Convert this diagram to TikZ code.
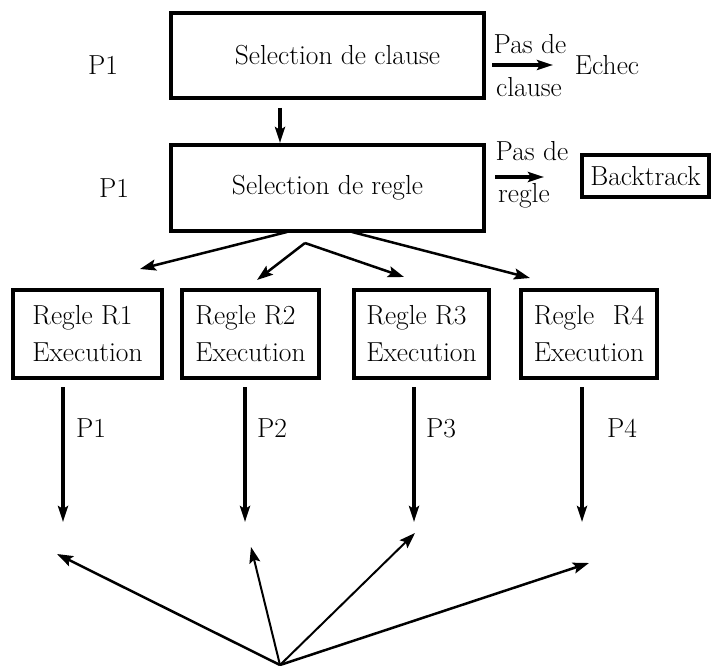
\documentclass[tikz,border=0pt]{standalone}
\usepackage{calc}
\usetikzlibrary{arrows.meta}
\begin{document}
\begin{tikzpicture}[x=1pt,y=-1pt,
  every node/.style={font=\fontsize{27.5}{37}\selectfont, inner sep=0pt},
  bigbox/.style={draw, line width=4pt, minimum width=313pt, minimum height=85pt},
  rulebox/.style={draw, line width=4pt, minimum height=88pt, align=left},
  arr/.style={line width=3.2pt, -{Stealth[length=16pt,width=10pt,inset=3pt]}},
  fanarr/.style={line width=2.5pt, -{Stealth[length=16pt,width=11pt,inset=3pt]}},
]
\useasboundingbox (0,0) rectangle (712,666);

% top: clause selection and rule selection
\node[bigbox] (clause) at (327.5,55.5) {\hspace*{20pt}Selection de clause};
\node (p1a) at (103,65) {P1};
\node[bigbox, minimum height=86pt] (regle) at (327.5,188) {Selection de regle};
\node (p1b) at (114,188) {P1};
\draw[arr, shorten <=8pt] ([xshift=-47.5pt]clause.south) -- ([xshift=-47.5pt]regle.north);

% failure exit of the clause selection
\coordinate (c1s) at (492,65);
\coordinate (c1e) at (553,65);
\draw[arr] (c1s) -- (c1e);
\node (pd1) at (530,44) {Pas de};
\node (cl1) at (529,87) {clause};
\node (echec) at (607,65) {Echec};

% failure exit of the rule selection
\coordinate (c2s) at (495,177);
\coordinate (c2e) at (544,177);
\draw[arr] (c2s) -- (c2e);
\node (pd2) at (532,151) {Pas de};
\node (rg2) at (524,196) {regle};
\node[draw, line width=4pt, minimum width=127pt, minimum height=42pt] (bt) at (645.5,176) {Backtrack};

% fan towards the four rules
\coordinate (f1s) at (287,232);
\coordinate (f1e) at (140,269);
\coordinate (fork) at (305,243);
\coordinate (f2e) at (257,280);
\coordinate (f3e) at (404,277);
\coordinate (f4s) at (352,232);
\coordinate (f4e) at (530,278);
\draw[fanarr] (f1s) -- (f1e);
\draw[fanarr] (fork) -- (f2e);
\draw[fanarr] (fork) -- (f3e);
\draw[fanarr] (f4s) -- (f4e);

% rule boxes
\node[rulebox, minimum width=149pt] (r1) at (87.5,334) {Regle R1\\Execution};
\node[rulebox, minimum width=137pt] (r2) at (250.5,334) {Regle R2\\Execution};
\node[rulebox, minimum width=135pt] (r3) at (421.5,334) {Regle R3\\Execution};
\node[rulebox, minimum width=136pt] (r4) at (589,334) {\makebox[\widthof{Execution}][s]{Regle\hfill R4}\\Execution};

% results of each rule
\coordinate (v1s) at (63,387);  \coordinate (v1e) at (63,522);
\coordinate (v2s) at (245,387); \coordinate (v2e) at (245,522);
\coordinate (v3s) at (414,387); \coordinate (v3e) at (414,522);
\coordinate (v4s) at (582,387); \coordinate (v4e) at (582,522);
\draw[arr] (v1s) -- (v1e);
\draw[arr] (v2s) -- (v2e);
\draw[arr] (v3s) -- (v3e);
\draw[arr] (v4s) -- (v4e);
\node (q1) at (91,428) {P1};
\node (q2) at (272,428) {P2};
\node (q3) at (441,428) {P3};
\node (q4) at (622,428) {P4};

% bottom fan
\coordinate (base) at (280,665);
\coordinate (e1) at (57,554);
\coordinate (e2) at (251,547);
\coordinate (e3) at (415,533);
\coordinate (e4) at (589,563);
\draw[fanarr] (base) -- (e1);
\draw[fanarr, line width=2pt] (base) -- (e2);
\draw[fanarr, line width=2pt] (base) -- (e3);
\draw[fanarr] (base) -- (e4);
\end{tikzpicture}
\end{document}
